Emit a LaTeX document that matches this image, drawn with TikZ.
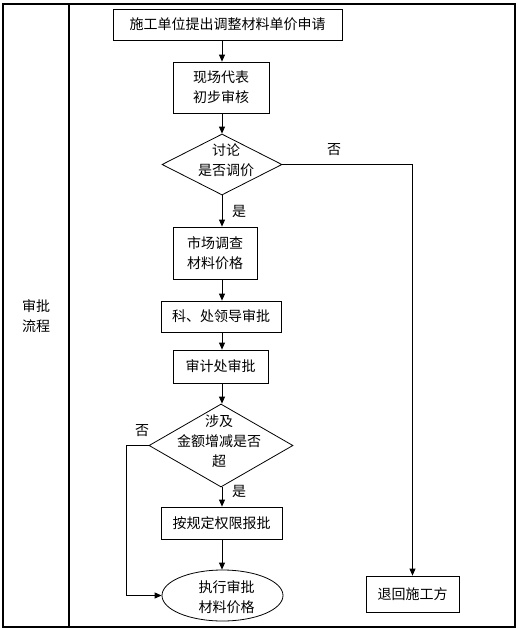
\documentclass[tikz,border=0pt]{standalone}
\usepackage{fontspec}
\setmainfont{Noto Sans CJK SC}
\usetikzlibrary{shapes.geometric,arrows.meta}
\begin{document}
\begin{tikzpicture}[x=1pt,y=-1pt,
  every node/.style={font=\fontsize{14}{20}\selectfont, inner sep=0pt},
  box/.style={draw, line width=0.8pt, rectangle, align=center},
  dia/.style={draw, line width=0.8pt, diamond},
  oval/.style={draw, line width=0.8pt, ellipse},
  conn/.style={line width=0.8pt, -{Triangle[length=7pt,width=6pt]}},
  plainline/.style={line width=0.8pt},
  frame/.style={line width=1.2pt}]
\useasboundingbox (0,0) rectangle (518,630);
% table frame
\draw[frame] (3,4) rectangle (515,627);
\draw[frame] (69,4) -- (69,627);
\node[anchor=west, align=left] (side) at (22,316) {审批\\流程};
% spine
\coordinate (spine) at (222,0);
\coordinate (lx) at (126,0);
% nodes
\node[box, minimum width=229pt, minimum height=31pt] (b1) at (227.5,24.5) {施工单位提出调整材料单价申请};
\node[box, minimum width=96pt, minimum height=51pt] (b2) at (221,87.5) {现场代表\\初步审核};
\node[dia, minimum width=120pt, minimum height=61pt,
  label={[align=center, xshift=4pt, yshift=4pt]center:{讨论\\是否调价}}] (d1) at (222,164.5) {};
\node[box, minimum width=84pt, minimum height=52pt] (b3) at (215,253) {市场调查\\材料价格};
\node[box, minimum width=120pt, minimum height=31pt] (b4) at (221,316.5) {科、处领导审批};
\node[box, minimum width=95pt, minimum height=33pt] (b5) at (220.5,366.5) {审计处审批};
\node[dia, minimum width=144pt, minimum height=83pt,
  label={[align=center, xshift=-2pt, yshift=4pt]center:{涉及\\金额增减是否\\超}}] (d2) at (221,445.5) {};
\node[box, minimum width=121pt, minimum height=32pt] (b6) at (221.5,523) {按规定权限报批};
\node[oval, minimum width=121pt, minimum height=51pt,
  label={[align=center, xshift=4pt, yshift=-1.5pt]center:{执行审批\\材料价格}}] (e) at (222.5,595.5) {};
\node[box, minimum width=93pt, minimum height=36pt] (b7) at (412.5,594) {退回施工方};
% branch labels
\node (no1) at (334,150) {否};
\node (yes1) at (239,211) {是};
\node (no2) at (142,431) {否};
\node (yes2) at (239,491) {是};
% connectors
\draw[conn] (b1.south -| spine) -- (b2.north -| spine);
\draw[conn] (b2.south -| spine) -- (d1.north);
\draw[conn] (d1.south) -- (b3.north -| spine);
\draw[conn] (b3.south -| spine) -- (b4.north -| spine);
\draw[conn] (b4.south -| spine) -- (b5.north -| spine);
\draw[conn] (b5.south -| spine) -- (d2.north -| spine);
\draw[conn] (d2.south -| spine) -- (b6.north -| spine);
\draw[conn] (b6.south -| spine) -- (e.north -| spine);
\draw[conn] (d1.east) -- (d1.east -| b7.north) -- (b7.north);
\draw[conn] (d2.west) -- (d2.west -| lx) |- (e.west);
\end{tikzpicture}
\end{document}
